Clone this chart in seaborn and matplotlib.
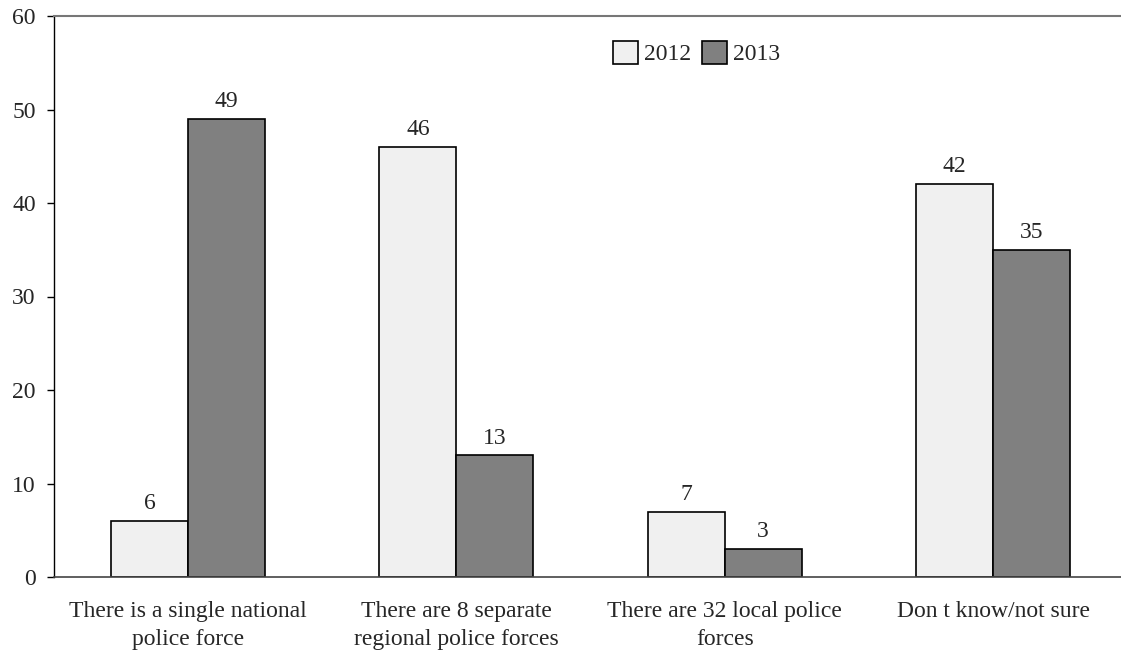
import matplotlib
matplotlib.use("Agg")
import matplotlib.pyplot as plt
import seaborn as sns
import pandas as pd
from matplotlib.patches import Patch

categories = [
    "There is a single national\npolice force",
    "There are 8 separate\nregional police forces",
    "There are 32 local police\nforces",
    "Don t know/not sure",
]
years = ["2012", "2013"]
values_2012 = [6, 46, 7, 42]
values_2013 = [49, 13, 3, 35]
yticks = [0, 10, 20, 30, 40, 50, 60]

df = pd.DataFrame({
    "category": categories * 2,
    "year": [years[0]] * 4 + [years[1]] * 4,
    "value": values_2012 + values_2013,
})

sns.set_theme(style="white")
plt.rcParams["font.family"] = ["Liberation Serif", "DejaVu Serif"]

FS = 17

fig = plt.figure(figsize=(11.21, 6.5), dpi=100)
ax = fig.add_axes([53.8 / 1121, 73 / 650, 1073.4 / 1121, 561 / 650])

palette = {"2012": "#f0f0f0", "2013": "#808080"}
sns.barplot(data=df, x="category", y="value", hue="year", palette=palette,
            order=categories, hue_order=years, width=0.573, saturation=1,
            edgecolor="black", linewidth=1.2, ax=ax, legend=False)

for cont in ax.containers:
    ax.bar_label(cont, fmt="%g", padding=5, fontsize=FS)

ax.set_ylim(0, 60)
ax.set_xlim(-0.5, 3.5)
ax.set_yticks(yticks)
ax.set_yticklabels([str(t) for t in yticks], fontsize=FS)
ax.set_xticks(range(len(categories)))
ax.set_xticklabels(categories, fontsize=FS, linespacing=1.45)
ax.tick_params(axis="y", length=5, width=1, color="black", pad=8, left=True)
ax.tick_params(axis="x", length=0, pad=17)
ax.set_xlabel("")
ax.set_ylabel("")

ax.spines["right"].set_visible(False)
ax.spines["top"].set_color("#777777")
ax.spines["top"].set_linewidth(1.5)
ax.spines["left"].set_color("black")
ax.spines["left"].set_linewidth(1)
ax.spines["bottom"].set_color("#444444")
ax.spines["bottom"].set_linewidth(1.2)

handles = [Patch(facecolor=palette[y], edgecolor="black", linewidth=1.2, label=y) for y in years]
ax.legend(handles=handles, loc="upper left", bbox_to_anchor=(0.506, 0.985), ncol=2,
          frameon=False, fontsize=FS, handlelength=1.05, handleheight=1.1,
          handletextpad=0.25, columnspacing=0.45, borderpad=0.2)

fig.savefig("out.png", dpi=100)
